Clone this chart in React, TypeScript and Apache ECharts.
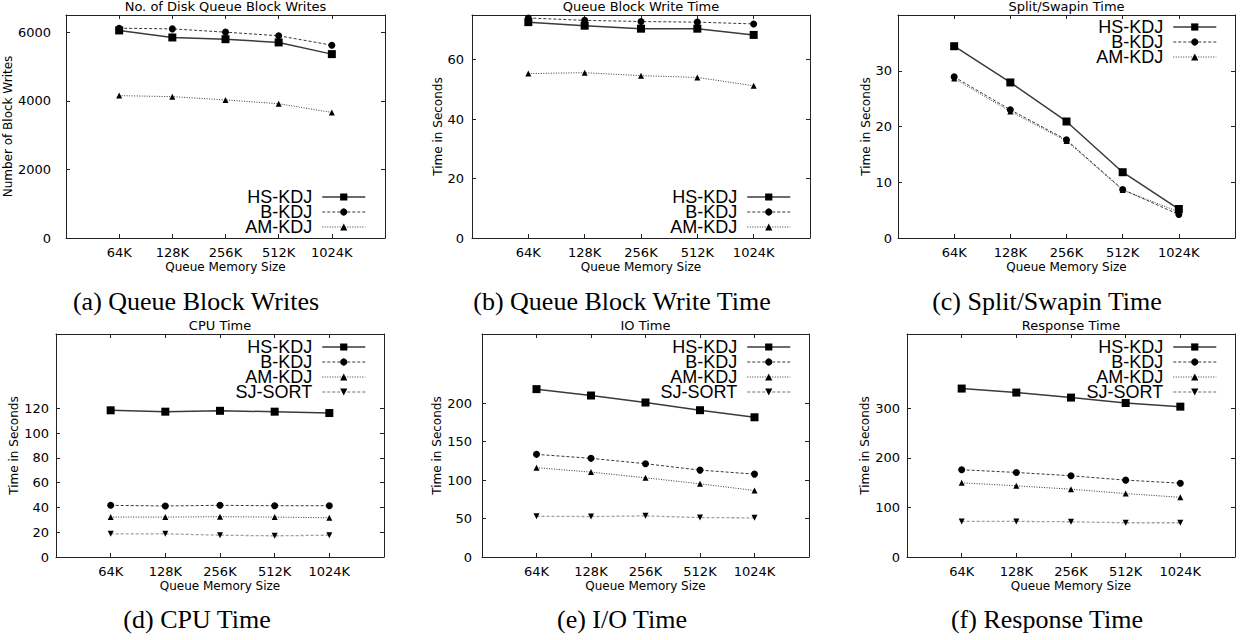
import React, { useEffect, useRef } from "react";
import * as echarts from "echarts";

const categories = ["64K", "128K", "256K", "512K", "1024K"];

const blockWritesHS = [6050, 5845, 5795, 5700, 5360];
const blockWritesB = [6115, 6095, 6000, 5895, 5620];
const blockWritesAM = [4150, 4120, 4025, 3915, 3660];

const writeTimeHS = [72.6, 71.4, 70.4, 70.4, 68.3];
const writeTimeB = [74.0, 73.2, 72.8, 72.6, 72.0];
const writeTimeAM = [55.3, 55.6, 54.6, 54.0, 51.2];

const splitHS = [34.4, 27.9, 20.9, 11.8, 5.2];
const splitB = [28.9, 23.0, 17.6, 8.7, 4.2];
const splitAM = [28.6, 22.7, 17.4, 8.6, 4.7];

const cpuHS = [118.4, 117.3, 118.0, 117.3, 116.2];
const cpuB = [41.7, 41.2, 41.7, 41.4, 41.4];
const cpuAM = [32.2, 32.2, 32.5, 32.2, 31.7];
const cpuSJ = [18.7, 18.7, 17.6, 17.1, 17.6];

const ioHS = [218.3, 210.0, 200.9, 190.9, 181.7];
const ioB = [133.5, 128.3, 121.3, 113.0, 107.8];
const ioAM = [116.1, 110.4, 103.0, 95.2, 86.5];
const ioSJ = [53.0, 52.6, 53.5, 51.3, 50.9];

const respHS = [339.9, 331.8, 321.7, 310.8, 303.4];
const respB = [176.1, 170.6, 163.9, 155.1, 149.0];
const respAM = [149.7, 143.6, 136.8, 128.0, 120.5];
const respSJ = [71.8, 71.8, 71.1, 69.1, 69.1];

const yTicksA = [0, 2000, 4000, 6000];
const yTicksB = [0, 20, 40, 60];
const yTicksC = [0, 10, 20, 30];
const yTicksD = [0, 20, 40, 60, 80, 100, 120];
const yTicksE = [0, 50, 100, 150, 200];
const yTicksF = [0, 100, 200, 300];

const seriesNames = ["HS-KDJ", "B-KDJ", "AM-KDJ", "SJ-SORT"];

const SANS = "Liberation Sans, Arial, sans-serif";
const WIDE = "DejaVu Sans, Verdana, sans-serif";
const SERIF = "Liberation Serif, Times New Roman, serif";

type Panel = {
  title: string;
  caption: string;
  yName: string;
  yMax: number;
  yTicks: number[];
  series: number[][];
  grid: { left: number; top: number; width: number; height: number };
  labelMargin: number;
  yNameGap: number;
  legendTop: number;
  legendRight: number;
  captionX: number;
  captionTop: number;
};

const panels: Panel[] = [
  {
    title: "No. of Disk Queue Block Writes",
    caption: "(a) Queue Block Writes",
    yName: "Number of Block Writes",
    yMax: 6500,
    yTicks: yTicksA,
    series: [blockWritesHS, blockWritesB, blockWritesAM],
    grid: { left: 66, top: 15, width: 319, height: 223 },
    labelMargin: 15,
    yNameGap: 45,
    legendTop: 188,
    legendRight: 877,
    captionX: 196,
    captionTop: 288,
  },
  {
    title: "Queue Block Write Time",
    caption: "(b) Queue Block Write Time",
    yName: "Time in Seconds",
    yMax: 75,
    yTicks: yTicksB,
    series: [writeTimeHS, writeTimeB, writeTimeAM],
    grid: { left: 472, top: 15, width: 338, height: 223 },
    labelMargin: 8,
    yNameGap: 26,
    legendTop: 188,
    legendRight: 452,
    captionX: 622,
    captionTop: 288,
  },
  {
    title: "Split/Swapin Time",
    caption: "(c) Split/Swapin Time",
    yName: "Time in Seconds",
    yMax: 40,
    yTicks: yTicksC,
    series: [splitHS, splitB, splitAM],
    grid: { left: 898, top: 15, width: 337, height: 223 },
    labelMargin: 6,
    yNameGap: 25,
    legendTop: 18,
    legendRight: 26,
    captionX: 1047,
    captionTop: 288,
  },
  {
    title: "CPU Time",
    caption: "(d) CPU Time",
    yName: "Time in Seconds",
    yMax: 180,
    yTicks: yTicksD,
    series: [cpuHS, cpuB, cpuAM, cpuSJ],
    grid: { left: 56, top: 334, width: 328, height: 223 },
    labelMargin: 7,
    yNameGap: 35,
    legendTop: 338,
    legendRight: 877,
    captionX: 197,
    captionTop: 606,
  },
  {
    title: "IO Time",
    caption: "(e) I/O Time",
    yName: "Time in Seconds",
    yMax: 290,
    yTicks: yTicksE,
    series: [ioHS, ioB, ioAM, ioSJ],
    grid: { left: 482, top: 334, width: 327, height: 223 },
    labelMargin: 10,
    yNameGap: 36,
    legendTop: 338,
    legendRight: 452,
    captionX: 622,
    captionTop: 606,
  },
  {
    title: "Response Time",
    caption: "(f) Response Time",
    yName: "Time in Seconds",
    yMax: 450,
    yTicks: yTicksF,
    series: [respHS, respB, respAM, respSJ],
    grid: { left: 907, top: 334, width: 328, height: 223 },
    labelMargin: 7,
    yNameGap: 34,
    legendTop: 338,
    legendRight: 26,
    captionX: 1047,
    captionTop: 606,
  },
];

const seriesStyles = [
  {
    symbol: "rect",
    symbolSize: 8,
    lineStyle: { color: "#3a3a3a", width: 1.5, type: "solid" },
  },
  {
    symbol: "circle",
    symbolSize: 7,
    lineStyle: { color: "#222", width: 0.9, type: [3, 2] },
  },
  {
    symbol: "triangle",
    symbolSize: 6,
    lineStyle: { color: "#222", width: 0.9, type: [1, 1.5] },
  },
  {
    symbol: "path://M0,0 L10,0 L5,8 Z",
    symbolSize: 6,
    lineStyle: { color: "#a0a0a0", width: 1.3, type: [3, 2] },
  },
];

const xTicks = [1, 2, 3, 4, 5];
const AXIS_COLOR = "#222";

function buildOption() {
  const grid: any[] = [];
  const xAxis: any[] = [];
  const yAxis: any[] = [];
  const series: any[] = [];
  const legend: any[] = [];
  const title: any[] = [];

  panels.forEach((p, i) => {
    grid.push({ ...p.grid, containLabel: false });
    const baseX = {
      type: "value",
      gridIndex: i,
      min: 0,
      max: 6,
      splitLine: { show: false },
      axisLine: { show: true, onZero: false, lineStyle: { color: AXIS_COLOR, width: 1 } },
      axisTick: {
        show: true,
        inside: true,
        length: 4,
        customValues: xTicks,
        lineStyle: { color: AXIS_COLOR },
      },
    };
    xAxis.push({
      ...baseX,
      position: "bottom",
      name: "Queue Memory Size",
      nameLocation: "middle",
      nameGap: 23,
      nameTextStyle: { fontFamily: WIDE, fontSize: 12, color: "#000" },
      axisLabel: {
        show: true,
        margin: 8,
        customValues: xTicks,
        fontFamily: WIDE,
        fontSize: 13,
        color: "#000",
        formatter: (v: number) => categories[Math.round(v) - 1] ?? "",
      },
    });
    xAxis.push({ ...baseX, position: "top", axisLabel: { show: false } });

    const baseY = {
      type: "value",
      gridIndex: i,
      min: 0,
      max: p.yMax,
      splitLine: { show: false },
      axisLine: { show: true, onZero: false, lineStyle: { color: AXIS_COLOR, width: 1 } },
      axisTick: {
        show: true,
        inside: true,
        length: 4,
        customValues: p.yTicks,
        lineStyle: { color: AXIS_COLOR },
      },
    };
    yAxis.push({
      ...baseY,
      position: "left",
      name: p.yName,
      nameLocation: "middle",
      nameGap: p.yNameGap,
      nameTextStyle: { fontFamily: WIDE, fontSize: 12, color: "#000" },
      axisLabel: {
        show: true,
        margin: p.labelMargin,
        customValues: p.yTicks,
        fontFamily: WIDE,
        fontSize: 13,
        color: "#000",
        formatter: (v: number) => String(v),
      },
    });
    yAxis.push({ ...baseY, position: "right", axisLabel: { show: false } });

    p.series.forEach((vals, k) => {
      const st = seriesStyles[k];
      series.push({
        type: "line",
        name: seriesNames[k],
        xAxisIndex: i * 2,
        yAxisIndex: i * 2,
        data: vals.map((v, j) => [j + 1, v]),
        symbol: st.symbol,
        symbolSize: st.symbolSize,
        showAllSymbol: true,
        itemStyle: { color: "#000" },
        lineStyle: st.lineStyle,
        z: 10 - k,
      });
    });

    legend.push({
      show: true,
      orient: "vertical",
      align: "right",
      right: p.legendRight,
      top: p.legendTop,
      padding: 0,
      itemGap: -3,
      itemWidth: 43,
      itemHeight: 9,
      selectedMode: false,
      data: seriesNames.slice(0, p.series.length).map((n, k) => ({
        name: n,
        lineStyle: { ...seriesStyles[k].lineStyle },
      })),
      textStyle: {
        fontFamily: SANS,
        fontSize: 18,
        lineHeight: 15,
        color: "#000",
        padding: [0, 5, 0, 0],
      },
    });

    title.push({
      text: p.title,
      left: p.grid.left + p.grid.width / 2,
      textAlign: "center",
      top: p.grid.top - 15,
      padding: 0,
      textStyle: { fontFamily: WIDE, fontSize: 13, fontWeight: "normal", color: "#000" },
    });
    title.push({
      text: p.caption,
      left: p.captionX,
      textAlign: "center",
      top: p.captionTop,
      padding: 0,
      textStyle: { fontFamily: SERIF, fontSize: 26, fontWeight: "normal", color: "#000" },
    });
  });

  return {
    animation: false,
    backgroundColor: "#fff",
    title,
    legend,
    grid,
    xAxis,
    yAxis,
    series,
  };
}

export default function App() {
  const ref = useRef<HTMLDivElement>(null);
  useEffect(() => {
    if (!ref.current) return;
    const chart = echarts.init(ref.current, undefined, { renderer: "svg" });
    chart.setOption(buildOption() as any);
    return () => chart.dispose();
  }, []);
  return (
    <div
      ref={ref}
      style={{ position: "absolute", left: 0, top: 0, width: 1243, height: 640, background: "#fff" }}
    />
  );
}
